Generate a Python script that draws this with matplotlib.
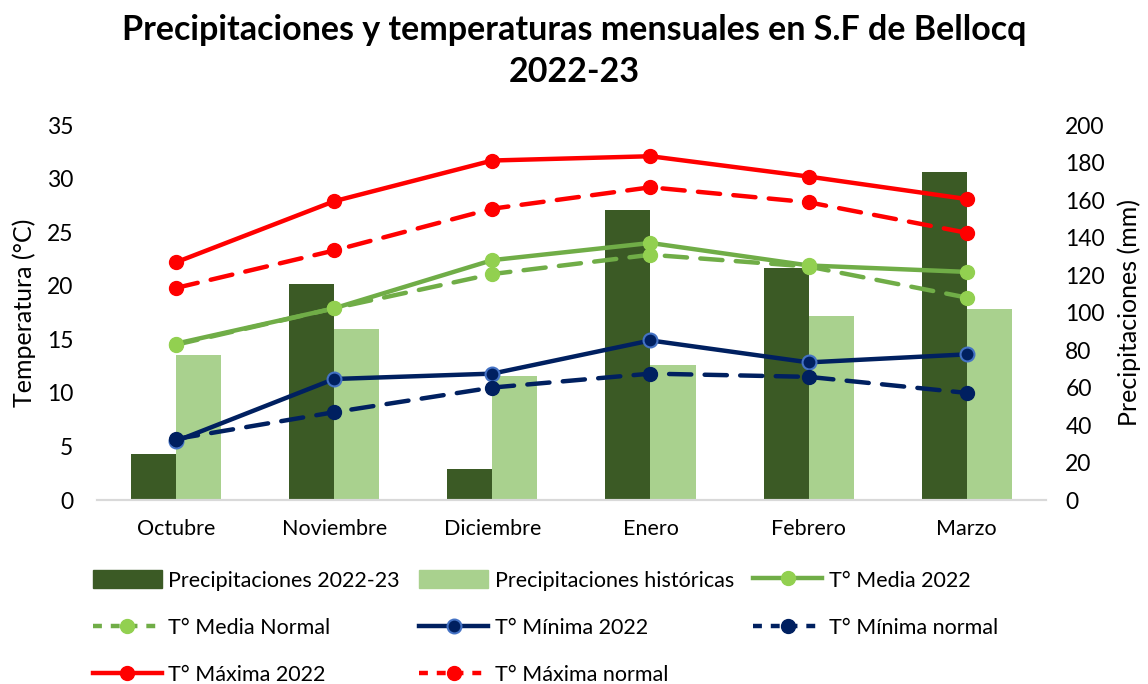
import matplotlib
matplotlib.use("Agg")
import matplotlib.pyplot as plt
from matplotlib.patches import Patch
from matplotlib.lines import Line2D
import numpy as np

plt.rcParams['font.family'] = ['Lato', 'DejaVu Sans']

months = ["Octubre", "Noviembre", "Diciembre", "Enero", "Febrero", "Marzo"]
precip_2022_23 = [24.4, 115, 16.4, 155, 124, 175]
precip_hist = [77.2, 91, 66, 72, 98, 102]
t_media_2022 = [14.6, 17.9, 22.4, 24.0, 21.9, 21.3]
t_media_normal = [14.5, 17.9, 21.1, 22.9, 21.8, 18.9]
t_min_2022 = [5.5, 11.3, 11.8, 14.9, 12.85, 13.6]
t_min_normal = [5.7, 8.2, 10.5, 11.8, 11.5, 10.0]
t_max_2022 = [22.2, 27.9, 31.7, 32.1, 30.2, 28.1]
t_max_normal = [19.8, 23.3, 27.2, 29.2, 27.8, 24.95]

fig = plt.figure(figsize=(11.48, 6.84), dpi=100)
ax = fig.add_axes([0.0845, 0.269, 0.8265, 0.548])
ax2 = ax.twinx()
ax.set_zorder(ax2.get_zorder() + 1)
ax.patch.set_visible(False)

x = np.arange(len(months))
w = 0.285
dark = "#3B5A25"
light = "#A9D18E"
ax2.bar(x - w / 2, precip_2022_23, width=w, color=dark)
ax2.bar(x + w / 2, precip_hist, width=w, color=light)

lw = 3.2
ms = 10
green_l = "#70AD47"
green_m = "#92D050"
navy = "#002060"
red = "#FF0000"
dash = (5, 3)

ax.plot(x, t_media_2022, color=green_l, lw=lw, marker='o', ms=ms,
        mfc=green_m, mec=green_m)
ax.plot(x, t_media_normal, color=green_l, lw=lw, marker='o', ms=ms,
        mfc=green_m, mec=green_m, ls=(0, dash), dash_capstyle='round')
ax.plot(x, t_min_2022, color=navy, lw=lw, marker='o', ms=ms,
        mfc=navy, mec="#4472C4", mew=1.5)
ax.plot(x, t_min_normal, color=navy, lw=lw, marker='o', ms=ms,
        mfc=navy, mec=navy, ls=(0, dash), dash_capstyle='round')
ax.plot(x, t_max_2022, color=red, lw=lw, marker='o', ms=ms,
        mfc=red, mec=red)
ax.plot(x, t_max_normal, color=red, lw=lw, marker='o', ms=ms,
        mfc=red, mec=red, ls=(0, dash), dash_capstyle='round')

ax.set_xlim(-0.5, len(months) - 0.5)
ax.set_ylim(0, 35)
ax.set_yticks(np.arange(0, 36, 5))
ax2.set_ylim(0, 200)
ax2.set_yticks(np.arange(0, 201, 20))
ax.set_xticks(x)
ax.set_xticklabels(months)

for a in (ax, ax2):
    for s in ("top", "left", "right"):
        a.spines[s].set_visible(False)
    a.spines["bottom"].set_color("#D9D9D9")
    a.spines["bottom"].set_linewidth(1.5)
    a.tick_params(length=0, labelsize=16.5)
ax.tick_params(axis='y', pad=17)
ax2.tick_params(axis='y', pad=14)
ax.tick_params(axis='x', pad=14, labelsize=15.5)

ax.set_ylabel("Temperatura (°C)", fontsize=18, labelpad=8)
ax2.set_ylabel("Precipitaciones (mm)", fontsize=18, labelpad=9)

fig.text(0.5, 0.925, "Precipitaciones y temperaturas mensuales en S.F de Bellocq\n2022-23",
         ha='center', va='center', fontsize=24.5, fontweight='bold', linespacing=1.4)

h_p1 = Patch(color=dark)
h_p2 = Patch(color=light)
h_m1 = Line2D([], [], color=green_l, lw=lw, marker='o', ms=ms, mfc=green_m, mec=green_m)
h_m2 = Line2D([], [], color=green_l, lw=lw, marker='o', ms=ms, mfc=green_m, mec=green_m,
              ls=(0, (2, 2)))
h_n1 = Line2D([], [], color=navy, lw=lw, marker='o', ms=ms, mfc=navy, mec="#4472C4", mew=1.5)
h_n2 = Line2D([], [], color=navy, lw=lw, marker='o', ms=ms, mfc=navy, mec=navy,
              ls=(0, (2, 2)))
h_x1 = Line2D([], [], color=red, lw=lw, marker='o', ms=ms, mfc=red, mec=red)
h_x2 = Line2D([], [], color=red, lw=lw, marker='o', ms=ms, mfc=red, mec=red,
              ls=(0, (2, 2)))

handles = [h_p1, h_m2, h_x1, h_p2, h_n1, h_x2, h_m1, h_n2]
labels = ["Precipitaciones 2022-23", "T° Media Normal", "T° Máxima 2022",
          "Precipitaciones históricas", "T° Mínima 2022", "T° Máxima normal",
          "T° Media 2022", "T° Mínima normal"]
fig.legend(handles, labels, ncol=3, loc='lower left', bbox_to_anchor=(0.064, -0.03),
           frameon=False, fontsize=15.5, handlelength=3.2, handleheight=0.9,
           handletextpad=0.3, columnspacing=0.9, labelspacing=1.25)

fig.savefig("out.png", dpi=100)
